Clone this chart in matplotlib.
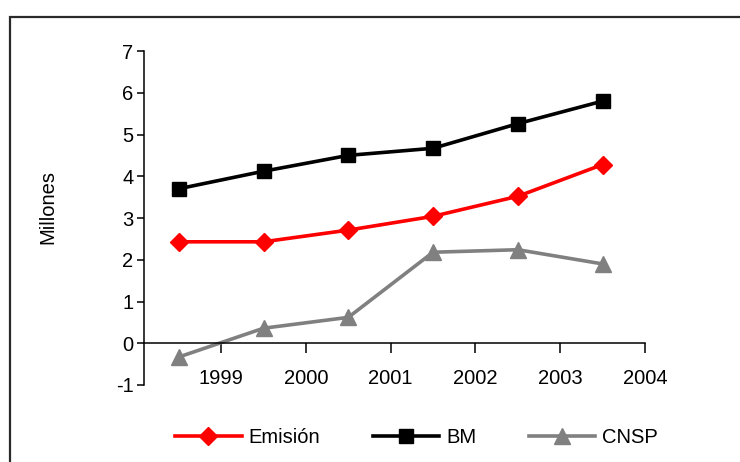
"""Emisión, BM y CNSP, millones, 1999-2004."""

import matplotlib

matplotlib.use("Agg")
import matplotlib.pyplot as plt
import numpy as np
from matplotlib.patches import Rectangle

years = [1999, 2000, 2001, 2002, 2003, 2004]
emision = [2.43, 2.43, 2.71, 3.04, 3.52, 4.28]
bm = [3.70, 4.12, 4.50, 4.67, 5.26, 5.80]
cnsp = [-0.33, 0.36, 0.62, 2.18, 2.24, 1.90]
y_ticks = [-1, 0, 1, 2, 3, 4, 5, 6, 7]

plt.rcParams["font.family"] = ["Liberation Sans", "DejaVu Sans"]
plt.rcParams["axes.unicode_minus"] = False

W, H = 740, 462
fig = plt.figure(figsize=(W / 100, H / 100), dpi=100)

# outer frame, cut off on the right and at the bottom
fig.patches.append(
    Rectangle(
        (10 / W, -0.1),
        1.2,
        1 - 17 / H + 0.1,
        transform=fig.transFigure,
        fill=False,
        edgecolor="#2a2a2a",
        linewidth=1.6,
    )
)

ax = fig.add_axes([144 / W, 1 - 385 / H, (645 - 144) / W, (385 - 51) / H])

# points sit half a year before each tick label
xs = np.array(years) - 0.5
ax.plot(xs, emision, color="#ff0000", lw=2.6, marker="D", ms=9.5, label="Emisión")
ax.plot(xs, bm, color="#000000", lw=2.6, marker="s", ms=10.5, label="BM")
ax.plot(xs, cnsp, color="#808080", lw=2.6, marker="^", ms=11.5, label="CNSP")

ax.set_xlim(years[0] - 0.91, years[-1])
ax.set_ylim(-1, 7)
ax.set_xticks(years)
ax.set_yticks(y_ticks)

for side in ("top", "right"):
    ax.spines[side].set_visible(False)
ax.spines["bottom"].set_position(("data", 0))
for side in ("left", "bottom"):
    ax.spines[side].set_linewidth(1.1)

ax.tick_params(axis="x", direction="out", length=7, width=1.1, pad=11.5, labelsize=14.5)
ax.tick_params(axis="y", direction="out", length=5, width=1.1, pad=2.5, labelsize=14.5)

ax.set_ylabel("Millones", fontsize=14.5)
ax.yaxis.set_label_coords(-0.172, 0.533)

fig.legend(
    loc="center",
    bbox_to_anchor=(0.563, 0.052),
    ncol=3,
    frameon=False,
    fontsize=14.5,
    handlelength=3.3,
    handletextpad=0.35,
    columnspacing=2.6,
)

fig.savefig("out.png", dpi=100)
